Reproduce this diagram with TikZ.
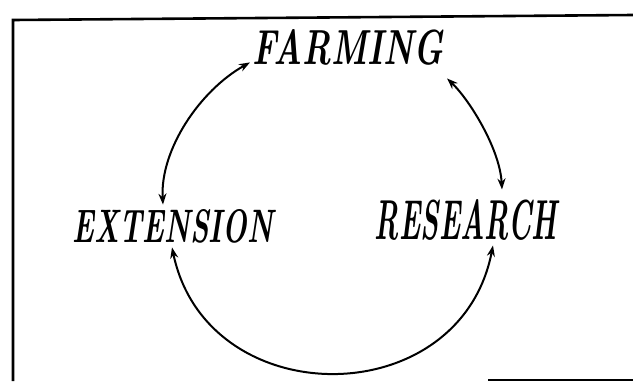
\documentclass[tikz,border=0pt]{standalone}
\usetikzlibrary{arrows.meta,calc}
\tikzset{
  label/.style={inner sep=0pt, outer sep=0pt, anchor=center, font=\bfseries\itshape},
  link/.style={line width=2pt, {Stealth[length=11pt,width=8pt]}-{Stealth[length=11pt,width=8pt]}},
  frame/.style={line width=2.6pt}
}
\begin{document}
\begin{tikzpicture}[x=1pt,y=-1pt]
\useasboundingbox (0,0) rectangle (633,381);
% frame
\draw[frame] (13,381) -- (13,20) -- (633,15);
\draw[line width=2pt] (488,379.5) -- (633,379.5);
% labels
\node[label] (farm) at (348,47.5) {\resizebox{190pt}{35pt}{FARMING}};
\node[label] (ext) at (173,226.5) {\resizebox{200pt}{33pt}{EXTENSION}};
\node[label] (res) at (466,220) {\resizebox{182pt}{40pt}{RESEARCH}};
% connectors
\draw[link] ($(farm.south west)+(-3,-3)$) .. controls +(-50,28) and +(-3,-55) .. ($(ext.north)+(-10,-5)$);
\draw[link] ($(farm.south east)+(4,13)$) .. controls +(23,22) and +(-2,-40) .. ($(res.north)+(36,-10)$);
\draw[link] ($(ext.south)+(-1,4)$) .. controls +(35,167) and +(-33,169) .. ($(res.south)+(27,5)$);
\end{tikzpicture}
\end{document}
